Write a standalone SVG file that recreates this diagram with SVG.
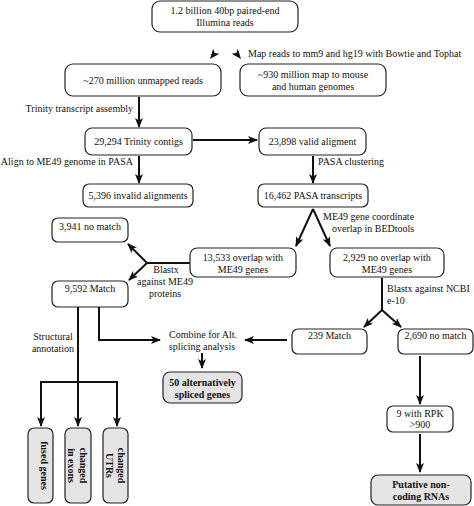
<svg xmlns="http://www.w3.org/2000/svg" width="474" height="506" viewBox="0 0 474 506">
<style>
  .box{fill:#fff;stroke:#222;stroke-width:1.2}
  .gbox{fill:#e4e4e4;stroke:#222;stroke-width:1.2}
  text{font-family:"Liberation Serif","Times New Roman",serif;font-size:10px;fill:#111}
  .c{text-anchor:middle}
  .e{text-anchor:end}
  .b{font-weight:bold}
  .ln{fill:none;stroke:#111;stroke-width:2}
  .ar{marker-end:url(#ah)}
  .head{fill:#111;stroke:none}
</style>
<defs>
  <marker id="ah" viewBox="0 0 10 8" refX="9" refY="4" markerWidth="10" markerHeight="8" markerUnits="userSpaceOnUse" orient="auto">
    <path d="M0,0 L10,4 L0,8 L2.5,4 z" fill="#111"/>
  </marker>
</defs>
<rect width="474" height="506" fill="#fff"/>

<g id="connectors">
  <polygon class="head" points="210,59 219.4,53.7 214.7,53.1 213.1,48.7"/>
  <polygon class="head" points="241,59 231.6,53.7 236.3,53.1 237.9,48.7"/>
  <path class="ln ar" d="M139,97 L139,127"/>
  <path class="ln ar" d="M193,140 L257,140"/>
  <path class="ln ar" d="M139,156 L139,183"/>
  <path class="ln ar" d="M313,156 L313,183"/>
  <path class="ln ar" d="M313,209 L296,246"/>
  <path class="ln ar" d="M313,209 L330,246"/>
  <path class="ln" d="M190,263 L147,263"/>
  <path class="ln ar" d="M147,263 L128,244"/>
  <path class="ln ar" d="M147,263 L129,280"/>
  <path class="ln ar" d="M78,307 L78,426"/>
  <path class="ln ar" d="M99,307 L99,340 L160,340"/>
  <path class="ln" d="M41,382 L117,382"/>
  <path class="ln ar" d="M41,381 L41,426"/>
  <path class="ln ar" d="M117,381 L117,426"/>
  <path class="ln ar" d="M202,353 L202,368"/>
  <path class="ln ar" d="M287,340 L245,340"/>
  <path class="ln" d="M382,278 L382,310"/>
  <path class="ln ar" d="M382,310 L364,327"/>
  <path class="ln ar" d="M382,310 L401,327"/>
  <path class="ln ar" d="M420,356 L420,404"/>
  <path class="ln ar" d="M420,434 L420,472"/>
</g>

<g id="labels">
  <text x="248" y="57">Map reads to mm9 and hg19 with Bowtie and Tophat</text>
  <text class="e" x="133" y="112">Trinity transcript assembly</text>
  <text class="e" x="133" y="165">Align to ME49 genome in PASA</text>
  <text x="318" y="165">PASA clustering</text>
  <text x="323" y="220">ME49 gene coordinate</text>
  <text x="332" y="232">overlap in BEDtools</text>
  <text class="c" x="166" y="273">Blastx</text>
  <text class="c" x="165" y="285">against ME49</text>
  <text class="c" x="165" y="297">proteins</text>
  <text class="c" x="53" y="340">Structural</text>
  <text class="c" x="53" y="352">annotation</text>
  <text x="387" y="292">Blastx against NCBI</text>
  <text x="387" y="304">e-10</text>
</g>

<g id="n1"><rect class="box" x="152" y="1" width="146" height="31" rx="8"/>
  <text class="c" x="225" y="13.5">1.2 billion 40bp paired-end</text>
  <text class="c" x="225" y="26">Illumina reads</text></g>
<g id="n2"><rect class="box" x="65" y="64" width="156" height="32" rx="8"/>
  <text class="c" x="143" y="83.5">~270 million unmapped reads</text></g>
<g id="n3"><rect class="box" x="240" y="64" width="146" height="32" rx="8"/>
  <text class="c" x="313" y="77.5">~930 million map to mouse</text>
  <text class="c" x="313" y="89.5">and human genomes</text></g>
<g id="n4"><rect class="box" x="85" y="128" width="107" height="27" rx="7"/>
  <text class="c" x="138.5" y="145">29,294 Trinity contigs</text></g>
<g id="n5"><rect class="box" x="259" y="128" width="107" height="27" rx="7"/>
  <text class="c" x="312.5" y="145">23,898 valid aligment</text></g>
<g id="n6"><rect class="box" x="83" y="184" width="110" height="23" rx="6"/>
  <text class="c" x="138" y="199">5,396 invalid alignments</text></g>
<g id="n7"><rect class="box" x="258" y="184" width="110" height="23" rx="6"/>
  <text class="c" x="313" y="199">16,462 PASA transcripts</text></g>
<g id="n8"><rect class="box" x="190" y="248" width="106" height="29" rx="7"/>
  <text class="c" x="243" y="260.5">13,533 overlap with</text>
  <text class="c" x="243" y="272.5">ME49 genes</text></g>
<g id="n9"><rect class="box" x="330" y="248" width="114" height="29" rx="7"/>
  <text class="c" x="387" y="260.5">2,929 no overlap with</text>
  <text class="c" x="387" y="272.5">ME49 genes</text></g>
<g id="n10"><rect class="box" x="52" y="218" width="76" height="24" rx="6"/>
  <text class="c" x="90" y="229.5">3,941 no match</text></g>
<g id="n11"><rect class="box" x="52" y="281" width="76" height="26" rx="6"/>
  <text class="c" x="90" y="292">9,592 Match</text></g>
<g id="n12"><rect class="gbox" x="28" y="428" width="25" height="75" rx="6"/>
  <text class="c b" transform="translate(40.5,465.5) rotate(90)" x="0" y="0">fused genes</text></g>
<g id="n13"><rect class="gbox" x="65" y="428" width="26" height="75" rx="6"/>
  <g transform="translate(78,465.5) rotate(90)">
  <text class="c b" x="0" y="-2">changed</text>
  <text class="c b" x="0" y="10">in exons</text></g></g>
<g id="n14"><rect class="gbox" x="103" y="428" width="25" height="75" rx="6"/>
  <g transform="translate(115.5,465.5) rotate(90)">
  <text class="c b" x="0" y="-2">changed</text>
  <text class="c b" x="0" y="10">UTRs</text></g></g>
<g id="n15">
  <text class="c" x="203" y="338">Combine for Alt.</text>
  <text class="c" x="202" y="350">splicing analysis</text></g>
<g id="n16"><rect class="gbox" x="163" y="372" width="79" height="31" rx="7"/>
  <text class="c b" x="202.5" y="385.5">50 alternatively</text>
  <text class="c b" x="202.5" y="397.5">spliced genes</text></g>
<g id="n17"><rect class="box" x="292" y="329" width="75" height="25" rx="6"/>
  <text class="c" x="329.5" y="338.5">239 Match</text></g>
<g id="n18"><rect class="box" x="398" y="329" width="75" height="25" rx="6"/>
  <text class="c" x="435.5" y="338.5">2,690 no match</text></g>
<g id="n19"><rect class="box" x="387" y="406" width="66" height="26" rx="6"/>
  <text class="c" x="420" y="416.5">9 with RPK</text>
  <text class="c" x="420" y="428">&gt;900</text></g>
<g id="n20"><rect class="gbox" x="371" y="475" width="100" height="30" rx="7"/>
  <text class="c b" x="421" y="487.5">Putative non-</text>
  <text class="c b" x="421" y="499.5">coding RNAs</text></g>
</svg>
